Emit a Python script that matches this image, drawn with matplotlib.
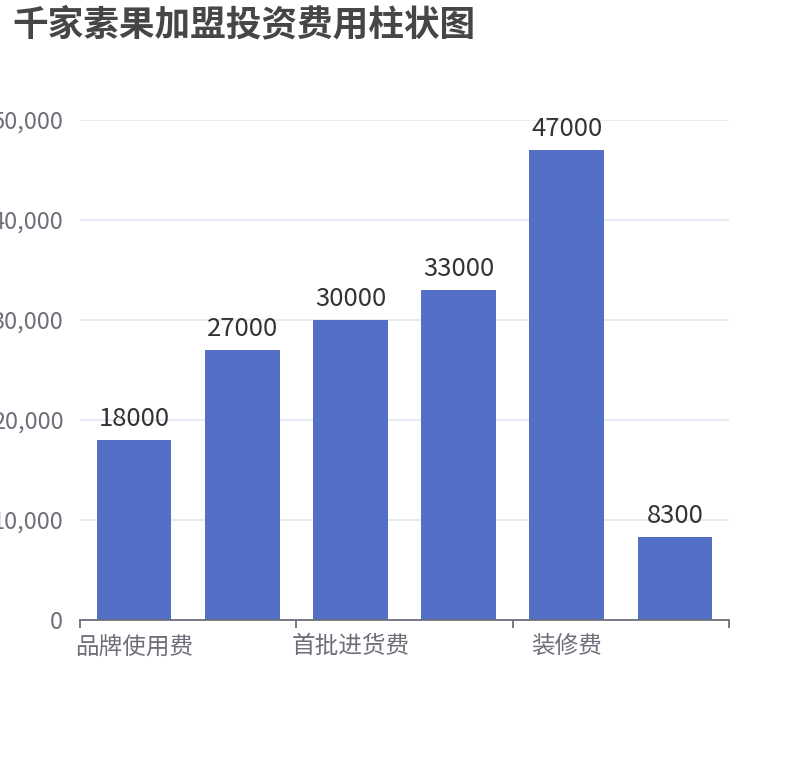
import numpy as np
import matplotlib as mpl
mpl.use('agg')
from matplotlib import pyplot as plt
from matplotlib.ticker import FuncFormatter, FixedLocator

plt.rcParams['font.family'] = ['Noto Sans CJK SC', 'DejaVu Sans']

title = '千家素果加盟投资费用柱状图'
# only every other category name is shown in the picture
categories = ['品牌使用费', '加盟费', '首批进货费', '设备费', '装修费', '其他费用']
values = [18000, 27000, 30000, 33000, 47000, 8300]
y_ticks = [0, 10000, 20000, 30000, 40000, 50000]

bar_color = '#5470C6'
axis_color = '#6E7079'
grid_color = '#E0E6F1'

fig = plt.figure(figsize=(8.1, 7.6), dpi=100)
ax = fig.add_axes([80 / 810, 140 / 760, 649 / 810, 500 / 760])

x = np.arange(len(categories))
bars = ax.bar(x, values, width=0.69, color=bar_color, zorder=3)

for xi, v in zip(x, values):
    ax.annotate(str(v), (xi, v), xytext=(0, 6), textcoords='offset points',
                ha='center', va='bottom', fontsize=18.5, color='#333333')

ax.set_xlim(-0.5, len(categories) - 0.5)
ax.set_ylim(0, 50000)
ax.set_yticks(y_ticks)
ax.yaxis.set_major_formatter(FuncFormatter(lambda v, p: '{:,.0f}'.format(v)))
ax.tick_params(axis='y', length=0, pad=12, labelsize=17, labelcolor=axis_color)
ax.grid(axis='y', color=grid_color, linewidth=1.2, zorder=0)

# boundary ticks every two categories, labels at every other category
ax.xaxis.set_major_locator(FixedLocator(np.arange(-0.5, len(categories), 2)))
ax.xaxis.set_major_formatter(FuncFormatter(lambda v, p: ''))
ax.xaxis.set_minor_locator(FixedLocator(x[::2]))
ax.set_xticklabels(categories[::2], minor=True)
ax.tick_params(axis='x', which='major', length=6, width=1.3, color=axis_color)
ax.tick_params(axis='x', which='minor', length=0, pad=11, labelsize=17, labelcolor=axis_color)

for s in ['top', 'right', 'left']:
    ax.spines[s].set_visible(False)
ax.spines['bottom'].set_color(axis_color)
ax.spines['bottom'].set_linewidth(1.3)
ax.spines['bottom'].set_zorder(4)

fig.text(12 / 810, 1 - 6 / 760, title, ha='left', va='top', fontsize=25.7,
         fontweight='bold', color='#464646')

plt.savefig('out.png')
